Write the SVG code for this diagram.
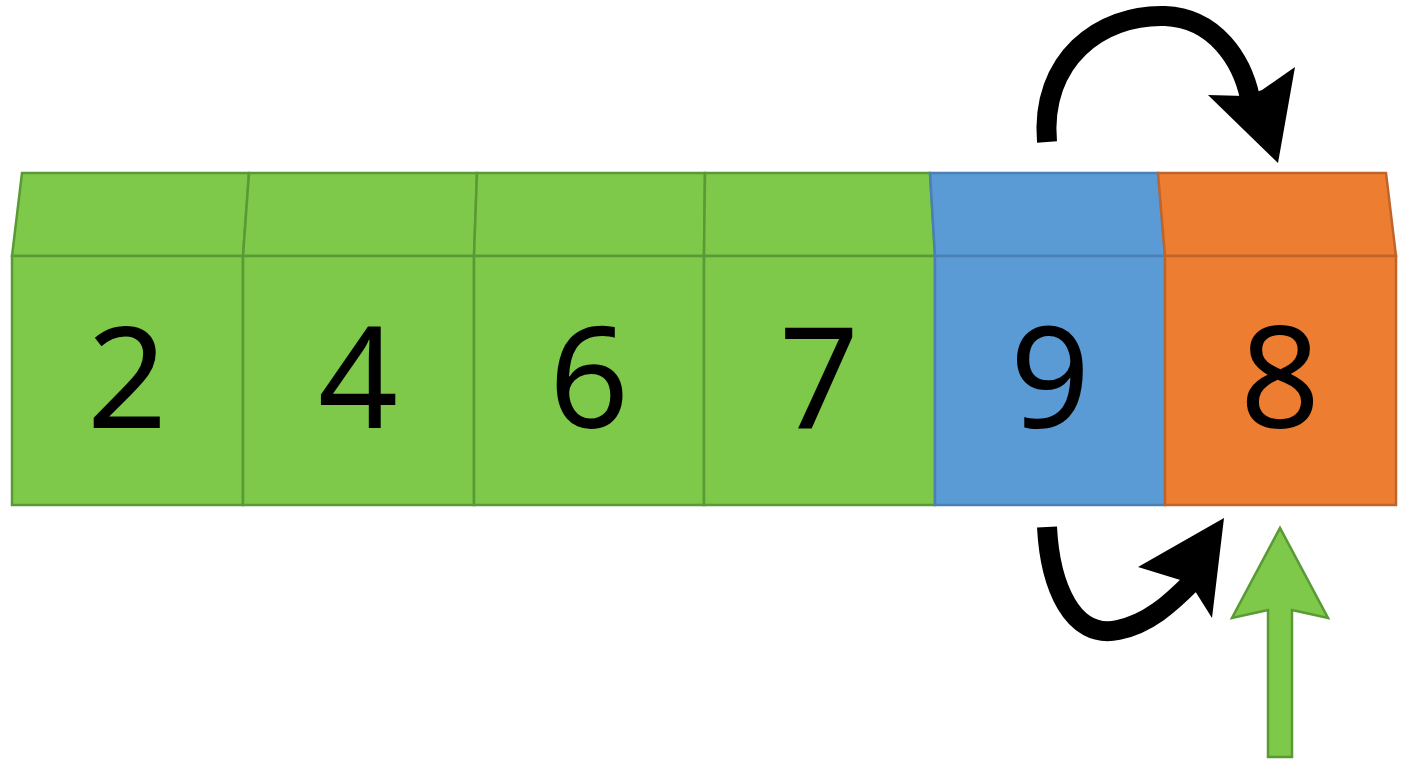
<svg xmlns="http://www.w3.org/2000/svg" width="1408" height="768" viewBox="0 0 1408 768">
<style>
.g{fill:#7EC84A;stroke:#5A9A35;stroke-width:2.5}
.b{fill:#5B9BD5;stroke:#4A80B5;stroke-width:2.5}
.o{fill:#ED7D31;stroke:#C0652A;stroke-width:2.5}
.n{font-family:"Noto Sans","Open Sans",sans-serif;font-size:140px;fill:#000;text-anchor:middle}
.k{fill:none;stroke:#000;stroke-width:20}
</style>
<rect width="1408" height="768" fill="#fff"/>
<g id="c2"><polygon class="g" points="22,173 249,173 243,256 12,256"/><rect class="g" x="12" y="256" width="231" height="249"/><text class="n" x="127" y="428">2</text></g>
<g id="c4"><polygon class="g" points="249,173 477,173 474,256 243,256"/><rect class="g" x="243" y="256" width="231" height="249"/><text class="n" x="358" y="428">4</text></g>
<g id="c6"><polygon class="g" points="477,173 705,173 704,256 474,256"/><rect class="g" x="474" y="256" width="230" height="249"/><text class="n" x="589" y="428">6</text></g>
<g id="c7"><polygon class="g" points="705,173 930,173 935,256 704,256"/><rect class="g" x="704" y="256" width="231" height="249"/><text class="n" x="819" y="428">7</text></g>
<g id="c9"><polygon class="b" points="930,173 1158,173 1165,256 935,256"/><rect class="b" x="935" y="256" width="230" height="249"/><text class="n" x="1050" y="428">9</text></g>
<g id="c8"><polygon class="o" points="1158,173 1386,173 1396,256 1165,256"/><rect class="o" x="1165" y="256" width="231" height="249"/><text class="n" x="1280" y="428">8</text></g>
<g id="connectors">
<path class="k" d="M1047,142 C1040,60 1100,14 1165,16 C1215,18 1242,60 1250,98"/>
<polygon points="1208,95 1278,163 1295,67 1262,90 1245,96" fill="#000"/>
<path class="k" d="M1047,527 C1050,585 1072,640 1118,630 C1148,624 1170,604 1192,582"/>
<polygon points="1138,567 1190,583 1212,618 1224,518" fill="#000"/>
<polygon points="1268,757 1292,757 1292,610 1328,618 1280,528 1232,618 1268,610" fill="#7EC84A" stroke="#5A9A35" stroke-width="2.5"/>
</g>
</svg>
